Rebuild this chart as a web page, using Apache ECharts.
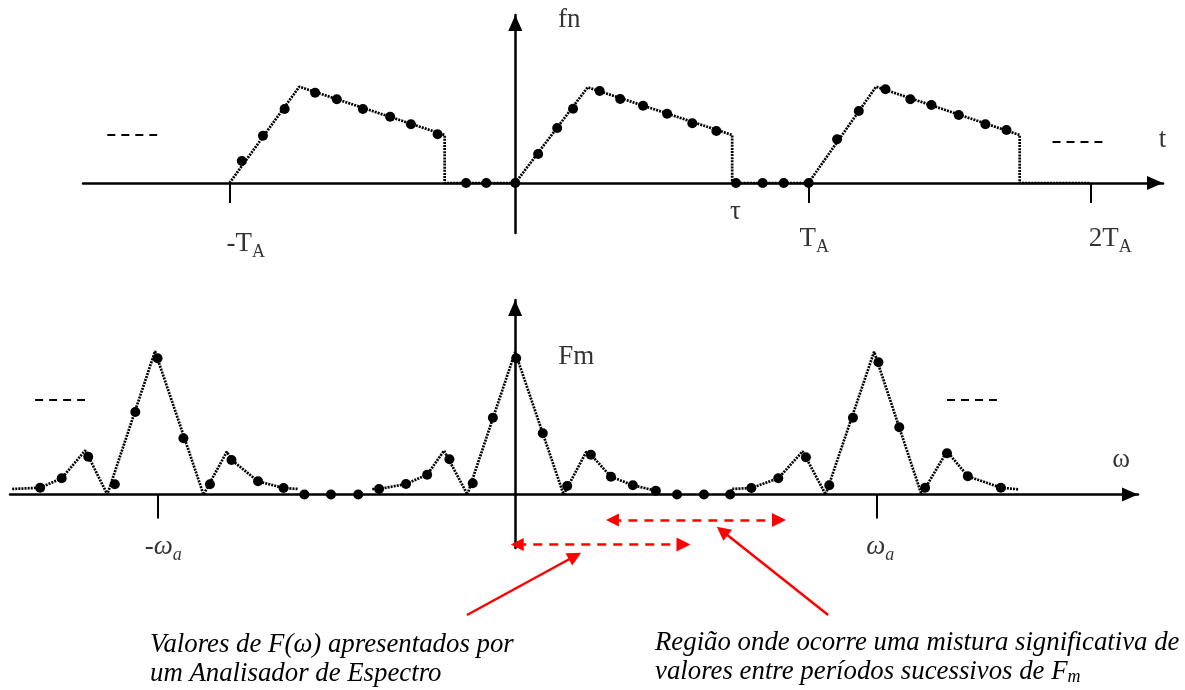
<!DOCTYPE html>
<html><head><meta charset="utf-8">
<script src="https://cdn.jsdelivr.net/npm/echarts@6/dist/echarts.min.js"></script>
<style>html,body{margin:0;padding:0;background:#fff}#c{width:1185px;height:690px}</style>
</head><body><div id="c"></div>
<script>
// ---------- top panel: f_n(t)  (t in units where T_A ≈ 10) ----------
const timeLineT = [-9.75, -7.37, -2.41, -2.41, 0, 2.47, 7.40, 7.40, 10, 12.31, 17.21, 17.21, 19.62];
const timeLineF = [0, 9.63, 4.8, 0, 0, 9.57, 4.8, 0, 0, 9.63, 4.8, 0, 0];
const timeSampleT = [-9.33, -8.61, -7.87, -6.83, -6.09, -5.20, -4.27, -3.56, -2.65, -1.68, -0.99,
  0, 0.78, 1.43, 1.97, 2.88, 3.58, 4.36, 5.18, 6.04, 6.86, 7.53, 8.44, 9.16, 10.01,
  10.98, 11.72, 12.63, 13.48, 14.2, 15.13, 16.04, 16.76];
const timeSampleF = [2.2, 4.73, 7.4, 9.03, 8.37, 7.4, 6.63, 5.87, 4.87, 0, 0,
  0, 2.9, 5.5, 7.43, 9.2, 8.4, 7.73, 6.93, 5.97, 5.2, 0, 0, 0, 0,
  4.37, 7.2, 9.37, 8.37, 7.8, 6.8, 5.87, 5.3];
const timeTicks = [-9.73, 10.0, 19.62];
const timeLabelText = ['-T{s|A}', 'τ', 'T{s|A}', '2T{s|A}'];
const timeLabelT = [-9.2, 7.51, 10.2, 20.3];
const timeLabelF = [-6.1, -2.9, -5.6, -5.6];
const timeEllipsisT = [[-13.92, -12.22], [18.33, 20.03]];
const timeEllipsisF = [4.8, 4.1];

// ---------- bottom panel: F_m(ω)  (ω in units where ω_a ≈ 10) ----------
const specSeg1W = [-14.01, -13.23, -12.63, -11.97, -11.36, -10.03, -8.68, -8.03, -7.90, -7.16, -6.45, -6.04];
const specSeg1F = [0.55, 0.68, 1.62, 4.42, 0, 14.32, 0, 4.28, 3.45, 1.32, 0.65, 0.55];
const specSeg2W = [-3.98, -3.79, -3.04, -2.45, -1.98, -1.33, 0, 1.35, 1.98, 2.11, 2.67, 3.28, 3.92, 4.04];
const specSeg2F = [0.55, 0.55, 1.05, 1.98, 4.38, 0, 14.25, 0, 4.25, 3.98, 1.78, 0.92, 0.38, 0.4];
const specSeg3W = [6.01, 6.03, 6.58, 7.33, 8.01, 8.65, 10.0, 11.32, 12.03, 12.61, 13.53, 14.01];
const specSeg3F = [0, 0.55, 0.65, 1.62, 4.32, 0, 14.28, 0, 4.32, 1.82, 0.68, 0.52];
const specSampleW = [-13.23, -12.63, -11.89, -11.15, -10.58, -9.96, -9.24, -8.50, -7.90, -7.16, -6.45, -5.87, -5.13, -4.37,
  -3.79, -3.04, -2.45, -1.83, -1.18, -0.62, 0.03, 0.77, 1.45, 2.11, 2.67, 3.28, 3.92, 4.51, 5.26, 5.99,
  6.58, 7.33, 8.10, 8.75, 9.41, 10.12, 10.70, 11.42, 12.03, 12.61, 13.53];
const specSampleF = [0.68, 1.62, 3.78, 1.02, 8.25, 13.62, 5.62, 1.02, 3.45, 1.32, 0.65, 0, 0, 0,
  0.55, 1.05, 1.98, 3.52, 1.12, 7.68, 13.62, 6.12, 0.85, 3.98, 1.78, 0.92, 0.38, 0, 0, 0,
  0.65, 1.62, 3.72, 0.92, 7.68, 13.22, 6.72, 0.68, 4.12, 1.82, 0.68];
const specTicks = [-9.95, 10.06];
const specLabelText = ['-{i|ω}{si|a}', '{i|ω}{si|a}'];
const specLabelW = [-9.8, 10.17];
const specLabelF = [-5.25, -5.25];
const specEllipsisW = [[-13.37, -11.98], [12.03, 13.42]];
const specEllipsisF = [9.52, 9.52];
// red annotation arrows (ω, F coordinates)
const dashArrowW = [[2.71, 7.35], [0.06, 4.69]];
const dashArrowF = [[-2.55, -2.55], [-5.0, -5.0]];
const pointerW = [[-1.34, 1.67], [8.72, 5.77]];
const pointerF = [[-12.05, -6.15], [-12.05, -3.65]];

// ---------- build ----------
const zip = (a, b) => a.map((v, i) => [v, b[i]]);
const black = '#000';
const FONT = 'Liberation Serif';
const dottedStyle = { color: black, width: 2.7, type: [2, 1.1] };
const rich = {
  s: { fontFamily: FONT, fontSize: 18, verticalAlign: 'bottom', lineHeight: 34, color: black },
  i: { fontFamily: FONT, fontSize: 27, fontStyle: 'italic', lineHeight: 34, color: black },
  si: { fontFamily: FONT, fontSize: 18, fontStyle: 'italic', verticalAlign: 'bottom', lineHeight: 34, color: black }
};
function axisX(grid, min, max, ticks, tickLen) {
  return {
    type: 'value', gridIndex: grid, min: min, max: max,
    axisLine: { show: true, onZero: true, symbol: ['none', 'triangle'], symbolSize: [14, 16], symbolOffset: [0, -8],
      lineStyle: { color: black, width: 2.5 } },
    axisTick: { show: true, customValues: ticks, length: tickLen, lineStyle: { color: black, width: 2 } },
    axisLabel: { show: false }, splitLine: { show: false }
  };
}
function axisY(grid, min, max) {
  return {
    type: 'value', gridIndex: grid, min: min, max: max,
    axisLine: { show: true, onZero: true, symbol: ['none', 'triangle'], symbolSize: [14, 16], symbolOffset: [0, -8],
      lineStyle: { color: black, width: 2.5 } },
    axisTick: { show: false }, axisLabel: { show: false }, splitLine: { show: false }
  };
}
function textSeries(xi, pts, texts) {
  return {
    type: 'scatter', xAxisIndex: xi, yAxisIndex: xi, symbolSize: 1, itemStyle: { color: 'rgba(0,0,0,0)' },
    clip: false, silent: true, z: 10,
    data: pts.map((p, i) => ({ value: p, label: { formatter: texts[i] } })),
    label: { show: true, position: 'inside', fontFamily: FONT, fontSize: 27, lineHeight: 34, color: black, rich: rich }
  };
}
function segLines(xi, ws, fs, style, sym, symSize) {
  return {
    type: 'lines', coordinateSystem: 'cartesian2d', xAxisIndex: xi, yAxisIndex: xi, clip: false, silent: true,
    symbol: sym || 'none', symbolSize: symSize || 14,
    lineStyle: Object.assign({ opacity: 1, curveness: 0 }, style),
    data: ws.map((w, i) => ({ coords: Array.isArray(fs[i]) ? zip(w, fs[i]) : w.map(v => [v, fs[i]]) }))
  };
}
const dotStyle = { color: black, opacity: 1 };
const series = [
  { type: 'line', xAxisIndex: 0, yAxisIndex: 0, data: zip(timeLineT, timeLineF), symbol: 'none', lineStyle: dottedStyle, silent: true },
  { type: 'scatter', xAxisIndex: 0, yAxisIndex: 0, data: zip(timeSampleT, timeSampleF), symbolSize: 10, itemStyle: dotStyle, z: 5 },
  segLines(0, timeEllipsisT, timeEllipsisF, { color: black, width: 2, type: [8, 6] }),
  textSeries(0, zip(timeLabelT, timeLabelF).concat([[1.84, 16.3], [22.08, 4.3]]), timeLabelText.concat(['fn', 't'])),

  { type: 'line', xAxisIndex: 1, yAxisIndex: 1, data: zip(specSeg1W, specSeg1F), symbol: 'none', lineStyle: dottedStyle, silent: true },
  { type: 'line', xAxisIndex: 1, yAxisIndex: 1, data: zip(specSeg2W, specSeg2F), symbol: 'none', lineStyle: dottedStyle, silent: true },
  { type: 'line', xAxisIndex: 1, yAxisIndex: 1, data: zip(specSeg3W, specSeg3F), symbol: 'none', lineStyle: dottedStyle, silent: true },
  { type: 'scatter', xAxisIndex: 1, yAxisIndex: 1, data: zip(specSampleW, specSampleF), symbolSize: 10, itemStyle: dotStyle, z: 5 },
  segLines(1, specEllipsisW, specEllipsisF, { color: black, width: 2, type: [8, 6] }),
  textSeries(1, zip(specLabelW, specLabelF).concat([[1.70, 13.75], [16.88, 3.45]]), specLabelText.concat(['Fm', 'ω'])),
  segLines(1, dashArrowW, dashArrowF, { color: '#ff0000', width: 2.5, type: [9, 7] }, ['triangle', 'triangle'], [13, 14]),
  segLines(1, pointerW, pointerF, { color: '#ff0000', width: 2.5, type: 'solid' }, ['none', 'triangle'], [13, 14])
];
const chart = echarts.init(document.getElementById('c'));
chart.setOption({
  animation: false,
  backgroundColor: '#fff',
  grid: [
    { left: 83, right: 22, top: 15, bottom: 457 },
    { left: 10, right: 47, top: 300, bottom: 142 }
  ],
  xAxis: [axisX(0, -14.75, 22.1, timeTicks, 20), axisX(1, -14.07, 17.35, specTicks, 24)],
  yAxis: [axisY(0, -5, 16.8), axisY(1, -5.35, 19.45)],
  series: series,
  graphic: [
    { type: 'text', left: 150, top: 631, silent: true,
      style: { text: 'Valores de F(ω) apresentados por\num Analisador de Espectro',
        font: 'italic 26.8px "Liberation Serif"', fill: black, lineHeight: 28.5 } },
    { type: 'text', left: 655, top: 629, silent: true,
      style: { text: 'Região onde ocorre uma mistura significativa de\nvalores entre períodos sucessivos de F{s|m}',
        font: 'italic 26.8px "Liberation Serif"', fill: black, lineHeight: 28.5,
        rich: { s: { font: 'italic 18px "Liberation Serif"', fill: black, verticalAlign: 'bottom', lineHeight: 28.5 } } } }
  ]
});
</script></body></html>
